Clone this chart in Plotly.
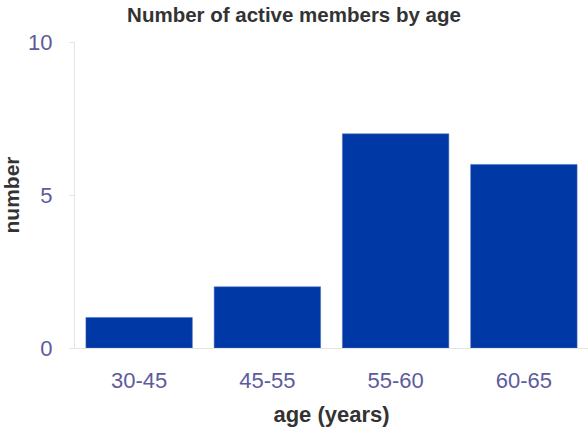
import plotly.graph_objects as go

categories = ["30-45", "45-55", "55-60", "60-65"]
values = [1, 2, 7, 6]
y_ticks = [0, 5, 10]

tick_color = "#5c5c9c"
axis_line = "#e6e6de"

fig = go.Figure(go.Bar(
    x=categories, y=values,
    marker=dict(color="#0039a6", line=dict(color="#4a6fc0", width=0.5)),
))

fig.update_layout(
    width=588, height=434,
    margin=dict(l=75, r=0, t=42, b=86),
    paper_bgcolor="white", plot_bgcolor="white",
    bargap=0.17,
    showlegend=False,
    font=dict(family="Liberation Sans, Arial, sans-serif"),
    title=dict(text="<b>Number of active members by age</b>", x=0.5, xref="container",
               xanchor="center", y=0.965, yanchor="middle",
               font=dict(size=20.5, color="#333333")),
)

fig.update_xaxes(
    showline=True, linecolor=axis_line, linewidth=1,
    showgrid=False, ticks="", ticklabelstandoff=13,
    tickfont=dict(size=22, color=tick_color),
    title=dict(text="<b>age (years)</b>", font=dict(size=22, color="#333333"), standoff=14),
)
fig.update_yaxes(
    range=[0, 10], tickvals=y_ticks,
    showline=True, linecolor=axis_line, linewidth=1,
    showgrid=False, ticks="outside", ticklen=5, tickcolor=axis_line,
    ticklabelstandoff=12,
    tickfont=dict(size=22, color=tick_color),
    title=dict(text="<b>number</b>", font=dict(size=21, color="#333333"), standoff=8),
    zeroline=False,
)

fig.write_html("out.html")
